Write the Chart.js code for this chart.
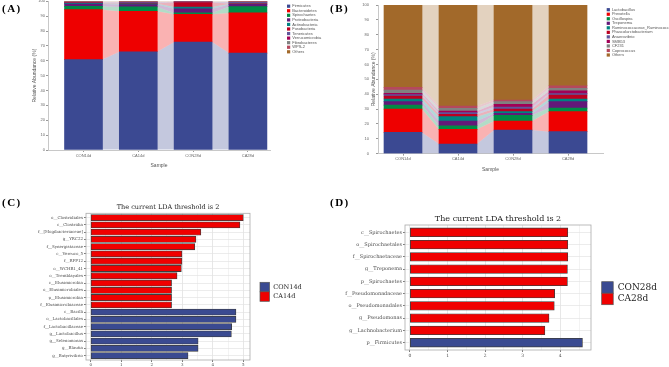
<!DOCTYPE html>
<html><head><meta charset="utf-8">
<script src="https://cdn.jsdelivr.net/npm/chart.js@4.4.1/dist/chart.umd.min.js"></script>
<style>
body{margin:0;width:669px;height:367px;background:#fff;position:relative;overflow:hidden}
.p{position:absolute}
.lab{position:absolute;font:bold 11px "Liberation Serif",serif;color:#000;letter-spacing:1.5px;line-height:12px}
</style></head><body>
<div class="p" style="left:0;top:0;width:335px;height:180px"><canvas id="ca"></canvas></div>
<div class="p" style="left:335px;top:0;width:334px;height:180px"><canvas id="cb"></canvas></div>
<div class="p" style="left:0;top:180px;width:335px;height:187px"><canvas id="cc"></canvas></div>
<div class="p" style="left:335px;top:180px;width:334px;height:187px"><canvas id="cd"></canvas></div>
<div class="lab" style="left:2px;top:2px">(A)</div>
<div class="lab" style="left:330px;top:2px">(B)</div>
<div class="lab" style="left:2px;top:196px">(C)</div>
<div class="lab" style="left:330px;top:196px">(D)</div>
<script>
// ---------- data ----------
const samples = ['CON14d', 'CA14d', 'CON28d', 'CA28d'];

// Panel A: phylum level relative abundance (%)
const phyla = ['Firmicutes','Bacteroidetes','Spirochaetes','Proteobacteria','Actinobacteria','Fusobacteria','Tenericutes','Verrucomicrobia','Fibrobacteres','WPS-2','Others'];
const firmicutes      = [60.8, 66.1, 72.6, 65.2];
const bacteroidetes   = [33.6, 27.2, 18.7, 27.0];
const spirochaetes    = [2.2, 2.9, 0.9, 4.2];
const proteobacteria  = [1.6, 1.6, 2.8, 1.5];
const actinobacteria  = [0.4, 0.5, 1.1, 0.3];
const fusobacteria    = [0.3, 0.4, 3.1, 0.3];
const tenericutes     = [0.3, 0.4, 0.2, 0.8];
const verrucomicrobia = [0.2, 0.3, 0.2, 0.2];
const fibrobacteres   = [0.2, 0.2, 0.1, 0.2];
const wps2            = [0.1, 0.1, 0.1, 0.1];
const othersPhylum    = [0.3, 0.3, 0.2, 0.2];

// Panel B: genus level relative abundance (%)
const genera = ['Lactobacillus','Prevotella','Oscillospira','Treponema','Ruminococcaceae_Ruminococcus','Phascolarctobacterium','Anaerovibrio','SMB53','CF231','Coprococcus','Others'];
const lactobacillus         = [14.3, 6.5, 15.9, 14.8];
const prevotella            = [15.7, 9.9, 6.1, 13.5];
const oscillospira          = [2.7, 2.4, 3.8, 2.4];
const treponema             = [2.3, 3.2, 1.3, 4.3];
const ruminococcus          = [1.8, 2.9, 1.2, 1.8];
const phascolarctobacterium = [2.0, 1.6, 1.7, 2.7];
const anaerovibrio          = [0.9, 1.1, 1.4, 0.9];
const smb53                 = [0.9, 1.1, 1.8, 1.8];
const cf231                 = [2.2, 1.8, 1.8, 1.7];
const coprococcus           = [1.8, 1.6, 1.1, 1.8];
const othersGenus           = [55.4, 67.9, 63.9, 54.3];

const palette = ['#3B4992','#EE0000','#008B45','#631879','#008280','#BB0021','#5F559B','#A20056','#808180','#B5485D','#A2692A'];

// Panel C: LDA scores CON14d vs CA14d
const taxaC = ['o__Clostridiales','c__Clostridia','f__[Mogibacteriaceae]','g__YRC22','f__Synergistaceae','c__Verruco_5','f__RFP12','o__WCHB1_41','o__Tremblayales','c__Elusimicrobia','o__Elusimicrobiales','p__Elusimicrobia','f__Elusimicrobiaceae','c__Bacilli','o__Lactobacillales','f__Lactobacillaceae','g__Lactobacillus','g__Selenomonas','g__Blautia','g__Butyrivibrio'];
const ldaC   = [5.00, 4.89, 3.61, 3.45, 3.41, 2.99, 2.99, 2.97, 2.83, 2.65, 2.65, 2.65, 2.65, 4.76, 4.76, 4.62, 4.61, 3.52, 3.52, 3.19];
const groupC = ['CA14d','CA14d','CA14d','CA14d','CA14d','CA14d','CA14d','CA14d','CA14d','CA14d','CA14d','CA14d','CA14d','CON14d','CON14d','CON14d','CON14d','CON14d','CON14d','CON14d'];
const legendC = ['CON14d','CA14d'];

// Panel D: LDA scores CON28d vs CA28d
const taxaD = ['c__Spirochaetes','o__Spirochaetales','f__Spirochaetaceae','g__Treponema','p__Spirochaetes','f__Pseudomonadaceae','o__Pseudomonadales','g__Pseudomonas','g__Lachnobacterium','p__Firmicutes'];
const ldaD   = [4.20, 4.20, 4.20, 4.19, 4.19, 3.85, 3.84, 3.70, 3.59, 4.59];
const groupD = ['CA28d','CA28d','CA28d','CA28d','CA28d','CA28d','CA28d','CA28d','CA28d','CON28d'];
const legendD = ['CON28d','CA28d'];

const ldaColors = ['#3A4A91', '#F00000'];

// ---------- helpers ----------
function alpha(hex, a){
  const n = parseInt(hex.slice(1),16);
  return `rgba(${(n>>16)&255},${(n>>8)&255},${n&255},${a})`;
}
const bandPlugin = {
  id:'bands',
  beforeDatasetsDraw(chart){
    const ctx = chart.ctx;
    chart.data.datasets.forEach((ds, di) => {
      const els = chart.getDatasetMeta(di).data;
      ctx.save();
      ctx.fillStyle = alpha(ds.backgroundColor, 0.3);
      for (let i = 0; i < els.length - 1; i++){
        const a = els[i], b = els[i+1];
        const ax = a.x + a.width/2, bx = b.x - b.width/2;
        ctx.beginPath();
        ctx.moveTo(ax, a.y); ctx.lineTo(bx, b.y); ctx.lineTo(bx, b.base); ctx.lineTo(ax, a.base);
        ctx.closePath(); ctx.fill();
      }
      ctx.restore();
    });
  }
};
function stackLegend(x, y0, step, box){
  return { id:'stackLegend', afterDraw(chart){
    const ctx = chart.ctx;
    ctx.save();
    ctx.font = '4px "Liberation Sans", sans-serif';
    ctx.textBaseline = 'middle';
    chart.data.datasets.forEach((ds, i) => {
      const y = y0 + i*step;
      ctx.fillStyle = ds.backgroundColor;
      ctx.fillRect(x, y - box/2, box, box);
      ctx.fillStyle = '#555';
      ctx.fillText(ds.label, x + box + 2, y);
    });
    ctx.restore();
  }};
}
function stackedChart(id, names, series, cfg){
  const datasets = names.map((n, i) => ({
    label: n,
    data: series[i].map((v, j) => ({x: j, y: v})),
    backgroundColor: palette[i],
    borderWidth: 0,
    barThickness: 38
  }));
  return new Chart(document.getElementById(id), {
    type: 'bar',
    data: { datasets },
    plugins: [bandPlugin, stackLegend(cfg.lgX, cfg.lgY0, cfg.lgStep, 3.2)],
    options: {
      responsive: true, maintainAspectRatio: false, animation: false, events: [],
      layout: { padding: cfg.pad },
      plugins: { legend: {display:false}, tooltip: {enabled:false} },
      scales: {
        x: {
          type: 'linear', min: cfg.xMin, max: cfg.xMax, stacked: true, offset: false, bounds: 'data',
          afterBuildTicks: s => { s.ticks = samples.map((_, i) => ({value: i})); },
          ticks: { callback: v => samples[v], font: {size: 4, family: 'Liberation Sans'}, color: '#666', padding: 1, maxRotation: 0, autoSkip: false },
          grid: { drawOnChartArea: false, tickLength: 2, color: '#999', offset: false },
          border: { color: '#C8C8C8' },
          title: { display: true, text: 'Sample', font: {size: 5, family: 'Liberation Sans'}, color: '#555', padding: {top: 0, bottom: 1} },
          afterFit: s => { s.height = 20; s.paddingLeft = 0; s.paddingRight = 0; }
        },
        y: {
          min: 0, max: 100, stacked: true,
          ticks: { stepSize: 10, font: {size: 4, family: 'Liberation Sans'}, color: '#666', padding: cfg.yTickPad },
          grid: { drawOnChartArea: false, tickLength: 2, color: '#999' },
          border: { color: '#C8C8C8' },
          title: { display: true, text: 'Relative Abundance (%)', font: {size: 5, family: 'Liberation Sans'}, color: '#555', padding: {top: cfg.yTitlePad, bottom: 0} },
          afterFit: s => { s.width = cfg.yWidth; s.paddingTop = 0; s.paddingBottom = 0; }
        }
      }
    }
  });
}

stackedChart('ca', phyla,
  [firmicutes, bacteroidetes, spirochaetes, proteobacteria, actinobacteria, fusobacteria, tenericutes, verrucomicrobia, fibrobacteres, wps2, othersPhylum],
  { pad: {left: 30, top: 1.3, right: 65, bottom: 10}, xMin: -0.648, xMax: 3.403, yWidth: 18, yTickPad: 1, yTitlePad: 2,
    lgX: 287, lgY0: 6.2, lgStep: 4.56 });

stackedChart('cb', genera,
  [lactobacillus, prevotella, oscillospira, treponema, ruminococcus, phascolarctobacterium, anaerovibrio, smb53, cf231, coprococcus, othersGenus],
  { pad: {left: 22, top: 5, right: 66, bottom: 6.3}, xMin: -0.4545, xMax: 3.636, yWidth: 21, yTickPad: 7, yTitlePad: 14,
    lgX: 271.7, lgY0: 9.7, lgStep: 4.53 });

// ---------- LDA charts ----------
function ldaChart(id, taxa, scores, groups, legendNames, cfg){
  const frame = { id:'frame', beforeDatasetsDraw(chart){
    const {left, top, right, bottom} = chart.chartArea, ctx = chart.ctx;
    ctx.save(); ctx.strokeStyle = '#AAAAAA'; ctx.lineWidth = 0.8;
    ctx.strokeRect(left, top, right - left, bottom - top); ctx.restore();
  }};
  const legend = { id:'ldaLegend', afterDraw(chart){
    const ctx = chart.ctx;
    ctx.save();
    ctx.font = cfg.lgFont + 'px "DejaVu Serif", serif';
    ctx.textBaseline = 'middle';
    legendNames.forEach((n, i) => {
      const y = cfg.lgY + i*cfg.lgBox;
      ctx.fillStyle = ldaColors[i];
      ctx.fillRect(cfg.lgX, y, cfg.lgBox, cfg.lgBox);
      ctx.strokeStyle = '#555'; ctx.lineWidth = 0.7;
      ctx.strokeRect(cfg.lgX, y, cfg.lgBox, cfg.lgBox);
      ctx.fillStyle = '#222';
      ctx.fillText(n, cfg.lgTextX, y + cfg.lgBox/2);
    });
    ctx.restore();
  }};
  const xTicks = [];
  for (let v = 0; v <= cfg.xTop; v += 0.5) xTicks.push(v);
  return new Chart(document.getElementById(id), {
    type: 'bar',
    data: { datasets: [{
      data: scores.map((v, i) => ({x: v, y: i})),
      backgroundColor: groups.map(g => ldaColors[legendNames.indexOf(g)]),
      borderColor: '#3C3C3C', borderWidth: 0.8, borderSkipped: false,
      barThickness: cfg.barT
    }]},
    plugins: [frame, legend],
    options: {
      indexAxis: 'y',
      responsive: true, maintainAspectRatio: false, animation: false, events: [],
      layout: { padding: cfg.pad },
      plugins: {
        legend: {display: false}, tooltip: {enabled: false},
        title: { display: true, text: 'The current LDA threshold is 2', fullSize: false,
          font: {size: cfg.titleSize, family: 'DejaVu Serif', weight: 'normal'}, color: '#222',
          padding: {top: 0, bottom: cfg.titlePadB} }
      },
      scales: {
        x: {
          type: 'linear', min: cfg.xMin, max: cfg.xMax,
          afterBuildTicks: s => { s.ticks = xTicks.map(v => ({value: v})); },
          ticks: { callback: v => Number.isInteger(v) ? String(v) : '', font: {size: cfg.xFont, family: 'DejaVu Serif'}, color: '#4D4D4D', padding: 1, maxRotation: 0, autoSkip: false },
          grid: { color: c => Number.isInteger(c.tick.value) ? '#DCDCDC' : '#EEEEEE', lineWidth: 0.7,
                  tickColor: c => Number.isInteger(c.tick.value) ? '#444' : 'rgba(0,0,0,0)', tickLength: 2 },
          border: { display: false },
          afterFit: s => { s.height = cfg.xHeight; s.paddingLeft = 0; s.paddingRight = 0; }
        },
        y: {
          type: 'linear', reverse: true, min: -0.6, max: taxa.length - 0.4, offset: false,
          afterBuildTicks: s => { s.ticks = taxa.map((_, i) => ({value: i})); },
          ticks: { callback: v => taxa[v], font: {size: cfg.yFont, family: 'DejaVu Serif'}, color: '#4D4D4D', padding: 1, autoSkip: false },
          grid: { color: '#E4E4E4', lineWidth: 0.7, tickColor: '#444', tickLength: 2, offset: false },
          border: { display: false },
          afterFit: s => { s.width = cfg.yWidth; s.paddingTop = 0; s.paddingBottom = 0; }
        }
      }
    }
  });
}

ldaChart('cc', taxaC, ldaC, groupC, legendC, {
  pad: {left: 0, top: 23.4, right: 85, bottom: 0}, titleSize: 6.5, titlePadB: 2.1,
  xMin: -0.154, xMax: 5.22, xTop: 5, xHeight: 7, xFont: 4, yFont: 4, yWidth: 86, barT: 6.2,
  lgX: 260, lgY: 102.3, lgBox: 9.5, lgFont: 6.5, lgTextX: 273.3
});
ldaChart('cd', taxaD, ldaD, groupD, legendD, {
  pad: {left: 0, top: 34.2, right: 78, bottom: 0}, titleSize: 8, titlePadB: 1.2,
  xMin: -0.133, xMax: 4.817, xTop: 4.5, xHeight: 17, xFont: 4.5, yFont: 5, yWidth: 70, barT: 8.8,
  lgX: 266.7, lgY: 101.7, lgBox: 11.5, lgFont: 9, lgTextX: 282.7
});
</script>
</body></html>
